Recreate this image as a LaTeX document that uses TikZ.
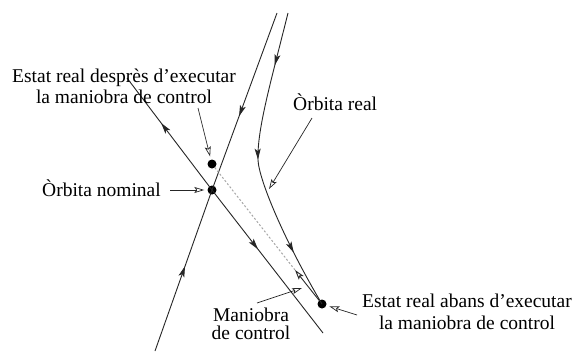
\documentclass[tikz,border=0pt]{standalone}
\usepackage{fontspec}
\setmainfont{Liberation Serif}
\usetikzlibrary{arrows.meta,decorations.markings}
\tikzset{
  orbit/.style={line width=0.9pt, draw=black!85},
  arrowat/.style={postaction={decorate}, decoration={markings, mark=at position #1 with {\arrow{>}}}},
  dotnode/.style={circle, fill=black, inner sep=0pt, minimum size=9pt},
  lbl/.style={font=\fontsize{19.5}{20.5}\selectfont, inner sep=0pt, align=center},
  pointer/.style={line width=0.7pt, draw=black!85, -{Stealth[open,length=10pt,width=6pt,inset=2pt]}},
  maneuver/.style={line width=1pt, draw=gray!70, dash pattern=on 2pt off 2pt},
}
\begin{document}
\begin{tikzpicture}[x=1pt,y=-1pt,>={Stealth[length=11pt,width=6pt,inset=2.5pt]}]
\useasboundingbox (0,0) rectangle (578,354);
\fill[white] (0,0) rectangle (578,354);
% dots
\node[dotnode] (aft) at (212,164) {};
\node[dotnode] (nom) at (212,190) {};
\node[dotnode] (real) at (322,304) {};
% line ends
\coordinate (Abot) at (155,351);
\coordinate (Atop) at (277,13);
\coordinate (Btl) at (127,78);
\coordinate (Bbr) at (323,333);
\coordinate (Rtop) at (288,13);
\coordinate (Mk) at (295,270);
% orbits
\draw[orbit, arrowat=90pt] (Abot) -- (nom.center);
\draw[orbit, arrowat=110pt] (Atop) -- (nom.center);
\draw[orbit, arrowat=84pt] (nom.center) -- (Btl);
\draw[orbit, arrowat=75pt] (nom.center) -- (Bbr);
\draw[orbit, postaction={decorate}, decoration={markings,
    mark=at position 54pt with {\arrow{>}},
    mark=at position 150pt with {\arrow{>}},
    mark=at position 250pt with {\arrow{>}}}]
  (Rtop) .. controls (270,85) and (257,130) .. (258,160)
         .. controls (259,180) and (284,240) .. (real.center);
% maneuver
\draw[maneuver] (Mk) -- (aft);
\draw[pointer, line width=0.9pt] (real) -- (Mk);
% labels
\node[lbl, anchor=base] (tafter) at (124,103) {Estat real desprès d’executar\\la maniobra de control};
\node[lbl, anchor=base west] (tnom) at (42,196) {Òrbita nominal};
\node[lbl, anchor=base west] (treal) at (293,110) {Òrbita real};
\node[lbl, anchor=base, font=\fontsize{19.5}{17.5}\selectfont] (tman) at (251,339) {Maniobra\\de control};
\node[lbl, anchor=base, font=\fontsize{19.5}{22}\selectfont] (tbef) at (467,329) {Estat real abans d’executar\\la maniobra de control};
% pointers
\coordinate (p1) at (198,108);
\coordinate (p2) at (170,190);
\coordinate (p3s) at (312,118);
\coordinate (p3e) at (269,189);
\coordinate (p4s) at (257,303);
\coordinate (p4e) at (302,288);
\coordinate (p5) at (357,315);
\draw[pointer, shorten >=3pt] (p1) -- (aft);
\draw[pointer, shorten >=3pt] (p2) -- (nom);
\draw[pointer] (p3s) -- (p3e);
\draw[pointer] (p4s) -- (p4e);
\draw[pointer, shorten >=3pt] (p5) -- (real);
\end{tikzpicture}
\end{document}
